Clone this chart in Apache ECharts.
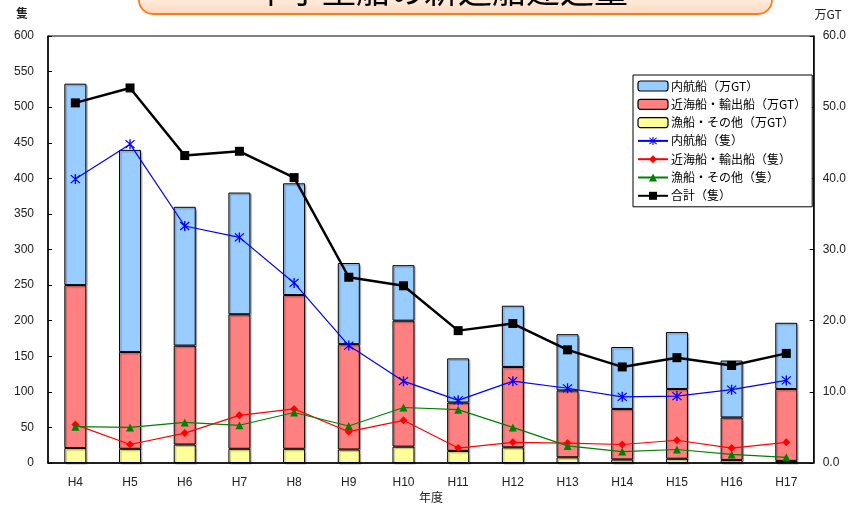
<!DOCTYPE html>
<html><head><meta charset="utf-8">
<script src="https://cdn.jsdelivr.net/npm/echarts@6/dist/echarts.min.js"></script>
<style>html,body{margin:0;padding:0;background:#fff}#c{width:849px;height:505px}</style>
</head><body><div id="c"></div>
<script>
const categories = ['H4','H5','H6','H7','H8','H9','H10','H11','H12','H13','H14','H15','H16','H17'];
const titleText = '中小型船の新造船建造量';
// 万GT (stacked bars, right axis)
const gtFishing = [2.1, 2.0, 2.6, 2.0, 2.0, 1.9, 2.3, 1.7, 2.2, 0.8, 0.5, 0.6, 0.4, 0.3];
const gtCoastalExport = [22.9, 13.6, 13.9, 18.9, 21.6, 14.8, 17.7, 6.8, 11.3, 9.4, 7.1, 9.8, 6.0, 10.1];
const gtDomestic = [28.3, 28.4, 19.5, 17.1, 15.7, 11.4, 7.8, 6.2, 8.6, 7.9, 8.7, 8.0, 8.0, 9.3];
// 隻 (lines, left axis)
const cntDomestic = [399, 448, 333, 317, 253, 165, 115, 88, 115, 105, 93, 94, 103, 116];
const cntCoastalExport = [54, 26, 42, 67, 76, 44, 60, 21, 29, 28, 26, 32, 21, 29];
const cntFishing = [51, 50, 57, 53, 71, 52, 78, 75, 50, 24, 16, 19, 12, 8];
const cntTotal = [506, 527, 432, 438, 401, 261, 249, 186, 196, 159, 135, 148, 137, 154];
const leftTicks = [0, 600, 50];
const rightTicks = [0, 60, 10];

const star = 'path://M4.4,0L5.6,0L5.6,10L4.4,10Z M0.6,1.4L1.4,0.6L9.4,8.6L8.6,9.4Z M8.6,0.6L9.4,1.4L1.4,9.4L0.6,8.6Z';
const font = '"Liberation Sans", Arial, "Noto Sans CJK JP", sans-serif';
const jfont = '"Noto Sans CJK JP", sans-serif';

const chart = echarts.init(document.getElementById('c'), null, {renderer:'canvas'});
const barBase = {type:'bar', stack:'gt', yAxisIndex:1, barWidth:22,
  itemStyle:{borderColor:'#000', borderWidth:1, shadowColor:'rgba(0,0,0,0.25)', shadowOffsetX:1.5, shadowOffsetY:1.5, shadowBlur:1}};
chart.setOption({
  animation:false,
  textStyle:{fontFamily:font},
  graphic:[
    {type:'rect', shape:{x:139, y:-40, width:633, height:54, r:14},
     style:{fill:new echarts.graphic.LinearGradient(0,0,0,1,[{offset:0,color:'#ffffff'},{offset:0.6,color:'#fff3ea'},{offset:1,color:'#fcd8bc'}]), stroke:'#ff7a1a', lineWidth:1.8}, z:10},
    {type:'text', x:441, y:7, style:{text:titleText, font:'34px '+jfont, fill:'#000', textAlign:'center', textVerticalAlign:'bottom'}, z:11},
    {type:'text', x:22, y:13, style:{text:'隻', font:'bold 12px '+jfont, fill:'#222', textAlign:'center', textVerticalAlign:'middle'}},
    {type:'text', x:828, y:14, style:{text:'万GT', font:'12px '+jfont, fill:'#222', textAlign:'center', textVerticalAlign:'middle'}},
    {type:'text', x:431, y:497, style:{text:'年度', font:'12px '+jfont, fill:'#222', textAlign:'center', textVerticalAlign:'middle'}}
  ],
  grid:{left:48, right:34, top:36, bottom:42, show:true, borderColor:'#000', borderWidth:1, backgroundColor:'transparent'},
  legend:{
    orient:'vertical', left:633, top:75, width:178,
    backgroundColor:'#fff', borderColor:'#000', borderWidth:1, padding:[5,6,5,4],
    itemWidth:30, itemHeight:10, itemGap:6.3,
    textStyle:{fontFamily:jfont, fontSize:12, color:'#000', padding:[0,0,0,-2]},
    data:[
      {name:'内航船（万GT）', itemStyle:{borderColor:'#000', borderWidth:1.2}},
      {name:'近海船・輸出船（万GT）', itemStyle:{borderColor:'#000', borderWidth:1.2}},
      {name:'漁船・その他（万GT）', itemStyle:{borderColor:'#000', borderWidth:1.2}},
      '内航船（隻）','近海船・輸出船（隻）','漁船・その他（隻）','合計（隻）'
    ]
  },
  xAxis:{type:'category', data:categories, boundaryGap:true,
    axisLine:{lineStyle:{color:'#000', width:1.5}},
    axisTick:{inside:true, length:4, lineStyle:{color:'#000'}},
    axisLabel:{color:'#222', fontSize:12, margin:14, fontFamily:font}},
  yAxis:[
    {type:'value', min:leftTicks[0], max:leftTicks[1], interval:leftTicks[2], position:'left',
     axisLine:{show:true, lineStyle:{color:'#000', width:1.5}},
     axisTick:{show:true, inside:true, length:4, lineStyle:{color:'#000'}},
     splitLine:{show:false},
     axisLabel:{color:'#222', fontSize:12, margin:14, fontFamily:font}},
    {type:'value', min:rightTicks[0], max:rightTicks[1], interval:rightTicks[2], position:'right',
     axisLine:{show:true, lineStyle:{color:'#000', width:1.5}},
     axisTick:{show:true, inside:true, length:4, lineStyle:{color:'#000'}},
     splitLine:{show:false},
     axisLabel:{color:'#222', fontSize:12, margin:9, fontFamily:font, formatter:v=>v.toFixed(1)}}
  ],
  series:[
    Object.assign({}, barBase, {name:'漁船・その他（万GT）', data:gtFishing, itemStyle:Object.assign({}, barBase.itemStyle, {color:'#ffff99'})}),
    Object.assign({}, barBase, {name:'近海船・輸出船（万GT）', data:gtCoastalExport, itemStyle:Object.assign({}, barBase.itemStyle, {color:'#ff8080'})}),
    Object.assign({}, barBase, {name:'内航船（万GT）', data:gtDomestic, itemStyle:Object.assign({}, barBase.itemStyle, {color:'#99ccff'})}),
    {type:'line', name:'内航船（隻）', data:cntDomestic, yAxisIndex:0, symbol:star, symbolSize:10,
     lineStyle:{color:'#0000ff', width:1.2}, itemStyle:{color:'#0000ff'}, z:5},
    {type:'line', name:'近海船・輸出船（隻）', data:cntCoastalExport, yAxisIndex:0, symbol:'diamond', symbolSize:8,
     lineStyle:{color:'#ff0000', width:1.2}, itemStyle:{color:'#ff0000'}, z:5},
    {type:'line', name:'漁船・その他（隻）', data:cntFishing, yAxisIndex:0, symbol:'triangle', symbolSize:8,
     lineStyle:{color:'#008000', width:1.2}, itemStyle:{color:'#008000'}, z:5},
    {type:'line', name:'合計（隻）', data:cntTotal, yAxisIndex:0, symbol:'rect', symbolSize:9,
     lineStyle:{color:'#000', width:2.5}, itemStyle:{color:'#000'}, z:6}
  ]
});
</script></body></html>
